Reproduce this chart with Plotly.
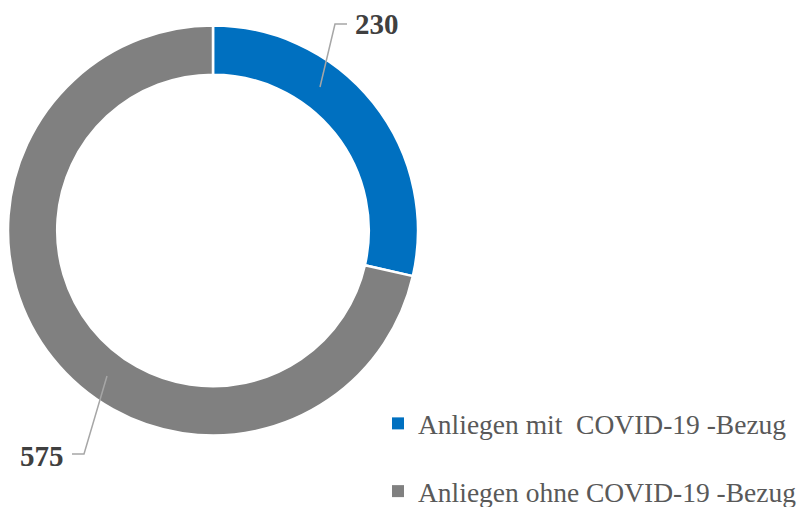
import plotly.graph_objects as go

# ---- data ----
categories = ["Anliegen mit  COVID-19 -Bezug", "Anliegen ohne COVID-19 -Bezug"]
values = [230, 575]
colors = ["#0070C0", "#808080"]

W, H = 806, 507

def px(x, y):
    return x / W, 1 - y / H

fig = go.Figure()
fig.add_trace(go.Pie(
    labels=categories, values=values, hole=0.76, sort=False,
    direction="clockwise", rotation=0,
    marker=dict(colors=colors, line=dict(color="white", width=2.5)),
    textinfo="none", hoverinfo="label+value", showlegend=False,
    domain=dict(x=[8 / W, 418 / W], y=[1 - 436 / H, 1 - 25 / H]),
))

# legend entries
for i, (c, col) in enumerate(zip(categories, colors)):
    fig.add_trace(go.Scatter(
        x=[None], y=[None], mode="markers", name=c, legendgroup=f"g{i}",
        marker=dict(symbol="square", size=8, color=col),
    ))

# value labels with leader lines
label_pos = [(377, 24), (42, 456)]
leaders = [[(320, 87), (335, 24), (347, 24)], [(107, 376), (84, 454), (72, 454)]]
for v, (lx, ly) in zip(values, label_pos):
    ax_, ay_ = px(lx, ly)
    fig.add_annotation(x=ax_, y=ay_, xref="paper", yref="paper", text=f"<b>{v}</b>",
                       xanchor="center", yanchor="middle", showarrow=False,
                       font=dict(family="Liberation Serif", size=29, color="#404040"))
for pts in leaders:
    path = ""
    for k, (x, y) in enumerate(pts):
        X, Y = px(x, y)
        path += ("M" if k == 0 else "L") + f"{X},{Y} "
    fig.add_shape(type="path", path=path, xref="paper", yref="paper",
                  line=dict(color="#A6A6A6", width=1.5))

fig.update_layout(
    width=W, height=H, margin=dict(l=0, r=0, t=0, b=0, autoexpand=False),
    paper_bgcolor="white", plot_bgcolor="white",
    xaxis=dict(visible=False), yaxis=dict(visible=False),
    legend=dict(x=378 / W, xanchor="left", y=1 - 399 / H, yanchor="top",
                font=dict(family="Liberation Serif", size=27.5, color="#595959"),
                tracegroupgap=29, traceorder="grouped", itemsizing="constant",
                bgcolor="rgba(0,0,0,0)"),
)

fig.write_html("out.html", config={"displayModeBar": False},
               post_script="document.body.style.margin='0';document.body.style.overflow='hidden';")
